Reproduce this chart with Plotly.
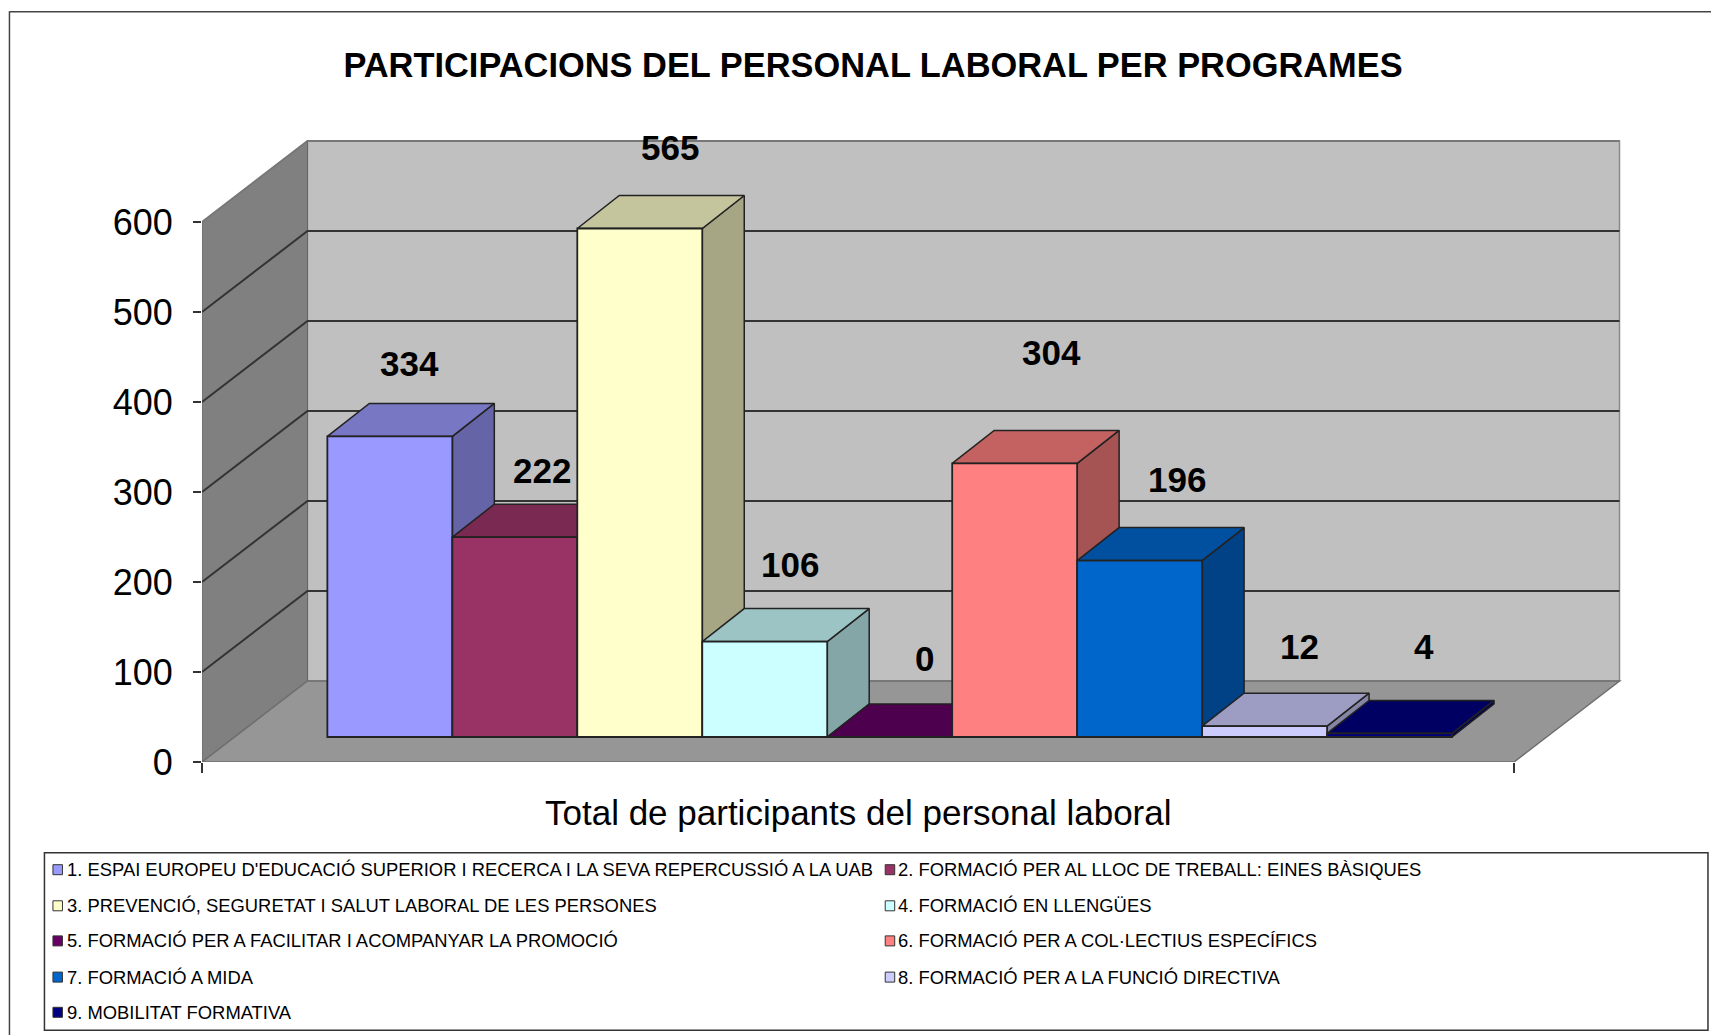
import plotly.graph_objects as go

# --- dades llegides del gràfic ---
CATEGORIES = [
    "1. ESPAI EUROPEU D'EDUCACIÓ SUPERIOR I RECERCA I LA SEVA REPERCUSSIÓ A LA UAB",
    "2. FORMACIÓ PER AL LLOC DE TREBALL: EINES BÀSIQUES",
    "3. PREVENCIÓ, SEGURETAT I SALUT LABORAL DE LES PERSONES",
    "4. FORMACIÓ EN LLENGÜES",
    "5. FORMACIÓ PER A FACILITAR I ACOMPANYAR LA PROMOCIÓ",
    "6. FORMACIÓ PER A COL·LECTIUS ESPECÍFICS",
    "7. FORMACIÓ A MIDA",
    "8. FORMACIÓ PER A LA FUNCIÓ DIRECTIVA",
    "9. MOBILITAT FORMATIVA",
]
VALUES = [334, 222, 565, 106, 0, 304, 196, 12, 4]
Y_TICKS = [0, 100, 200, 300, 400, 500, 600]

FRONT_COLORS = ["#9999FF", "#993366", "#FFFFCC", "#CCFFFF", "#660066", "#FF8080", "#0066CC", "#CCCCFF", "#000080"]
TOP_COLORS = ["#7777C4", "#7A2952", "#C4C49D", "#9DC4C4", "#4D004D", "#C46262", "#00509F", "#9D9DC4", "#000062"]
SIDE_COLORS = ["#6464A6", "#632142", "#A6A685", "#85A6A6", "#420042", "#A65353", "#004285", "#8585A6", "#000053"]

# desplaçaments de les etiquetes respecte de la barra (px)
LABEL_SHIFT_X = [-1.5, 6, 9, 4.5, 14, 16, 16, 14, 13]
LABEL_SHIFT_Y = [40, 34, 48, 44, 46, 78, 48, 47, 54]

# --- geometria (px de pàgina) ---
PAGE_PAD = 8  # marge per defecte del body
FIG_W, FIG_H = 1711, 1027
AXIS_LEFT, AXIS_BOTTOM = 201.6, 761.7
PLOT_RIGHT, PLOT_TOP = 1630.0, 131.7
BAR_PX, UNIT_PX = 125.0, 0.9
FIRST_CENTER = 389.5

X_MIN = (AXIS_LEFT - FIRST_CENTER) / BAR_PX
X_MAX = (PLOT_RIGHT - FIRST_CENTER) / BAR_PX
X_FRONT_RIGHT = (1514 - FIRST_CENTER) / BAR_PX
Y_MAX = (AXIS_BOTTOM - PLOT_TOP) / UNIT_PX

FLOOR_DX, FLOOR_DY = 105.5 / BAR_PX, 81 / UNIT_PX
BAR_DX, BAR_DY = 42 / BAR_PX, 33 / UNIT_PX
BASE = 25 / UNIT_PX


# "paper" va referit a l'àrea del gràfic, no a la figura
def paper_x(px):
    return (px - AXIS_LEFT) / (PLOT_RIGHT - AXIS_LEFT)


def paper_y(py):
    return (AXIS_BOTTOM - py) / (AXIS_BOTTOM - PLOT_TOP)


def path(points):
    return "M " + " L ".join(f"{x:.4f},{y:.3f}" for x, y in points) + " Z"


def open_path(points):
    return "M " + " L ".join(f"{x:.4f},{y:.3f}" for x, y in points)


TOP_WALL = Y_TICKS[-1]
shapes = [
    # paret del fons, paret esquerra i terra
    dict(type="path", layer="below", line=dict(color="#8a8a8a", width=1.5), fillcolor="#C0C0C0",
         path=path([(X_MIN + FLOOR_DX, FLOOR_DY), (X_FRONT_RIGHT + FLOOR_DX, FLOOR_DY),
                    (X_FRONT_RIGHT + FLOOR_DX, TOP_WALL + FLOOR_DY), (X_MIN + FLOOR_DX, TOP_WALL + FLOOR_DY)])),
    dict(type="path", layer="below", line=dict(color="#666666", width=1), fillcolor="#808080",
         path=path([(X_MIN, 0), (X_MIN + FLOOR_DX, FLOOR_DY), (X_MIN + FLOOR_DX, TOP_WALL + FLOOR_DY), (X_MIN, TOP_WALL)])),
    dict(type="path", layer="below", line=dict(color="#6e6e6e", width=1.5), fillcolor="#969696",
         path=path([(X_MIN, 0), (X_FRONT_RIGHT, 0), (X_FRONT_RIGHT + FLOOR_DX, FLOOR_DY), (X_MIN + FLOOR_DX, FLOOR_DY)])),
]
for tick in Y_TICKS[1:]:
    color = "#777777" if tick == TOP_WALL else "#333333"
    shapes.append(dict(type="path", layer="below", line=dict(color=color, width=2),
                       path=open_path([(X_MIN, tick), (X_MIN + FLOOR_DX, tick + FLOOR_DY),
                                       (X_FRONT_RIGHT + FLOOR_DX, tick + FLOOR_DY)])))

# vora de la imatge i requadre de la llegenda
shapes += [
    dict(type="line", xref="paper", yref="paper", x0=paper_x(9), x1=paper_x(9), y0=paper_y(11), y1=paper_y(1035),
         line=dict(color="#444444", width=1.5)),
    dict(type="line", xref="paper", yref="paper", x0=paper_x(9), x1=paper_x(1719), y0=paper_y(11.5), y1=paper_y(11.5),
         line=dict(color="#444444", width=1.5)),
    dict(type="rect", xref="paper", yref="paper", x0=paper_x(44), x1=paper_x(1708), y0=paper_y(852.5), y1=paper_y(1030),
         line=dict(color="#333333", width=1.5)),
]

fig = go.Figure()

# cares laterals i superiors, d'esquerra a dreta
for i, (value, top, side) in enumerate(zip(VALUES, TOP_COLORS, SIDE_COLORS)):
    right, left = i + 0.5, i - 0.5
    y = BASE + value
    fig.add_trace(go.Scatter(
        x=[right, right, right + BAR_DX, right + BAR_DX, right],
        y=[BASE, y, y + BAR_DY, BASE + BAR_DY, BASE],
        mode="lines", fill="toself", fillcolor=side, line=dict(color="#222222", width=1.5),
        hoverinfo="skip", showlegend=False,
    ))
    fig.add_trace(go.Scatter(
        x=[left, right, right + BAR_DX, left + BAR_DX, left],
        y=[y, y, y + BAR_DY, y + BAR_DY, y],
        mode="lines", fill="toself", fillcolor=top, line=dict(color="#222222", width=1.5),
        hoverinfo="skip", showlegend=False,
    ))

# cara frontal: eixos superposats perquè quedi damunt de les altres cares
fig.add_trace(go.Bar(
    x=list(range(len(VALUES))),
    y=VALUES,
    base=BASE,
    width=1,
    marker=dict(color=FRONT_COLORS, line=dict(color="#222222", width=1.8)),
    hovertext=CATEGORIES,
    xaxis="x2",
    yaxis="y2",
    showlegend=False,
))

annotations = []
for i, value in enumerate(VALUES):
    annotations.append(dict(
        x=i + BAR_DX / 2, y=BASE + value + BAR_DY, xshift=LABEL_SHIFT_X[i], yshift=LABEL_SHIFT_Y[i],
        text=f"<b>{value}</b>", showarrow=False, font=dict(family="Liberation Sans", size=35, color="black"),
        xanchor="center", yanchor="middle",
    ))

annotations.append(dict(
    xref="paper", yref="paper", x=paper_x(858), y=paper_y(812), text="Total de participants del personal laboral",
    showarrow=False, xanchor="center", yanchor="middle", font=dict(family="Liberation Sans", size=35, color="black"),
))

# llegenda en dues columnes
ROW_Y = [869.4, 905.5, 940.6, 976.8, 1012]
COL_MARKER_X = [52.5, 885]
COL_TEXT_X = [64.5, 896]
for i, (name, color) in enumerate(zip(CATEGORIES, FRONT_COLORS)):
    row, col = i // 2, i % 2
    py = ROW_Y[row]
    shapes.append(dict(
        type="rect", xref="paper", yref="paper", fillcolor=color, line=dict(color="#333333", width=1),
        x0=paper_x(COL_MARKER_X[col]), x1=paper_x(COL_MARKER_X[col] + 9.5),
        y0=paper_y(py - 5), y1=paper_y(py + 5),
    ))
    annotations.append(dict(
        xref="paper", yref="paper", x=paper_x(COL_TEXT_X[col]), y=paper_y(py), text=name, showarrow=False,
        xanchor="left", yanchor="middle", font=dict(family="Liberation Sans", size=18.4, color="black"),
    ))

fig.update_layout(
    width=FIG_W,
    height=FIG_H,
    autosize=False,
    paper_bgcolor="white",
    plot_bgcolor="white",
    showlegend=False,
    title=dict(
        text="<b>PARTICIPACIONS DEL PERSONAL LABORAL PER PROGRAMES</b>",
        x=(873 - PAGE_PAD) / FIG_W, xanchor="center", y=1 - (65 - PAGE_PAD) / FIG_H, yanchor="middle",
        font=dict(family="Liberation Sans", size=34.4, color="black"),
    ),
    margin=dict(
        l=AXIS_LEFT - PAGE_PAD, r=PAGE_PAD + FIG_W - PLOT_RIGHT,
        t=PLOT_TOP - PAGE_PAD, b=PAGE_PAD + FIG_H - AXIS_BOTTOM, pad=0,
    ),
    xaxis=dict(
        range=[X_MIN, X_MAX], tickmode="array", tickvals=[X_MIN, X_FRONT_RIGHT], ticktext=["", ""],
        ticks="outside", ticklen=10, tickcolor="#333333", tickwidth=1.5, showgrid=False, zeroline=False, showline=False,
    ),
    yaxis=dict(
        range=[0, Y_MAX], tickmode="array", tickvals=Y_TICKS, ticks="outside", ticklen=8, tickcolor="#333333",
        tickwidth=1.5, showgrid=False, zeroline=False, showline=False, ticklabelstandoff=13,
        tickfont=dict(family="Liberation Sans", size=36, color="black"),
    ),
    xaxis2=dict(range=[X_MIN, X_MAX], overlaying="x", visible=False),
    yaxis2=dict(range=[0, Y_MAX], overlaying="y", visible=False),
    shapes=shapes,
    annotations=annotations,
)

fig.write_html("out.html")
